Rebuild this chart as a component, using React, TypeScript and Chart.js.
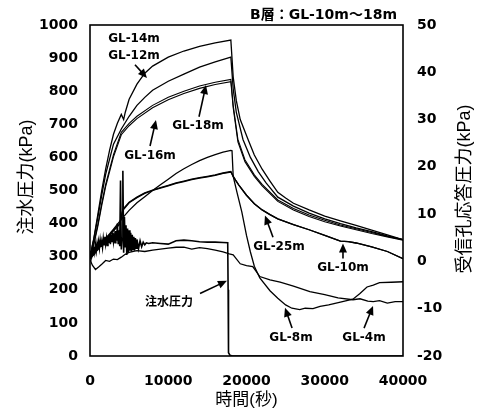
import React, { useEffect, useRef } from "react";
import { Chart, registerables } from "chart.js";
Chart.register(...registerables);

// ---- axis ranges / ticks ----
const X_MIN = 0;
const X_MAX = 40000;
const X_STEP = 10000;
const LEFT_MIN = 0;
const LEFT_MAX = 1000;
const LEFT_STEP = 100;
const RIGHT_MIN = -20;
const RIGHT_MAX = 50;
const RIGHT_STEP = 10;

// ---- 注水圧力 (left axis, kPa) ----
const injT = [0, 100, 200, 300, 400, 500, 600, 700, 800, 900, 1000, 1100, 1200, 1300, 1400, 1500, 1600, 1700, 1800, 1900, 2000, 2100, 2200, 2300, 2400, 2500, 2600, 2700, 2800, 2900, 3000, 3100, 3200, 3300, 3400, 3500, 3600, 3700, 3800, 3900, 4000, 4100, 4200, 4300, 4400, 4500, 4600, 4700, 4800, 4900, 5000, 5100, 5200, 5300, 5400, 5500, 5600, 5700, 5800, 5900, 6000, 6200, 6400, 6600, 6800, 7000, 7200, 7500, 8000, 9000, 10000, 11000, 12000, 13000, 14000, 15000, 16000, 17000, 17600, 17650, 17700, 17900, 18200, 40000];
const injV = [305, 318, 302, 326, 308, 330, 314, 336, 318, 340, 322, 345, 326, 350, 330, 346, 328, 355, 336, 360, 338, 356, 334, 364, 342, 368, 338, 360, 344, 372, 346, 366, 342, 378, 348, 400, 340, 380, 332, 530, 322, 355, 560, 312, 420, 330, 395, 305, 385, 312, 380, 318, 372, 315, 366, 322, 360, 318, 356, 326, 352, 324, 348, 330, 344, 336, 342, 340, 342, 340, 338, 348, 350, 348, 345, 344, 344, 343, 342, 200, 10, 2, 0, 0];

// ---- 受信孔応答圧力 (right axis, kPa) ----
const gl14T = [0, 500, 1000, 1500, 2000, 2500, 3000, 3500, 4000, 4300, 4500, 5000, 6000, 7000, 8000, 10000, 12000, 14000, 16000, 18000, 18300, 18700, 19200, 20200, 21000, 22000, 23000, 24000, 25000, 26000, 28000, 30000, 32000, 34000, 36000, 38000, 40000];
const gl14V = [0.8, 5, 9.9, 15, 19.5, 23.5, 26.9, 29.2, 31.1, 30, 31.5, 34.3, 37.5, 39.8, 41.3, 43.2, 44.5, 45.5, 46.2, 46.8, 39, 34, 30, 25.8, 22.5, 19.5, 17, 14.6, 13.4, 12.3, 10.9, 9.6, 8.6, 7.6, 6.6, 5.6, 4.6];

const gl12T = [0, 500, 1000, 1500, 2000, 3000, 4000, 5000, 6000, 7000, 8000, 10000, 12000, 14000, 16000, 18000, 18300, 18700, 19550, 20500, 21500, 22500, 24000, 26000, 28000, 30000, 32000, 34000, 36000, 38000, 40000];
const gl12V = [0.8, 4.8, 9.3, 14, 18.4, 24.8, 28, 30.7, 33, 34.7, 36.2, 38.1, 39.6, 41.1, 42.2, 43.2, 36.5, 31.5, 25.8, 22, 19, 16.6, 13.6, 11.7, 10.2, 9.0, 8.0, 7.1, 6.3, 5.4, 4.6];

const gl18T = [0, 500, 1000, 1500, 2000, 3000, 4000, 5000, 6000, 8000, 10000, 12000, 14000, 16000, 18000, 18300, 18900, 19800, 21000, 22000, 24000, 26000, 28000, 30000, 32000, 34000, 36000, 38000, 40000];
const gl18V = [0.8, 4, 7.8, 12.3, 16.3, 22.6, 27.3, 29.2, 30.7, 33, 34.7, 36, 37.1, 37.9, 38.5, 33, 25.8, 21.5, 18.3, 16.3, 13, 11.2, 9.8, 8.7, 7.7, 6.9, 6.1, 5.3, 4.6];
const gl16V = [0.6, 3.6, 7.4, 11.8, 15.8, 22.1, 26.8, 28.7, 30.2, 32.5, 34.2, 35.5, 36.6, 37.4, 38.0, 32.5, 25.3, 21.1, 18, 16, 12.7, 10.9, 9.5, 8.4, 7.5, 6.7, 5.9, 5.2, 4.5];

const gl25T = [0, 1000, 2000, 3000, 3800, 4200, 5000, 6000, 7000, 8000, 9000, 10000, 11000, 12000, 13000, 14000, 15000, 16000, 17000, 18000, 18300, 18600, 19000, 20000, 21000, 22000, 23000, 24000, 26000, 28000, 30000, 32000, 33000, 34000, 36000, 38000, 40000];
const gl25V = [0.5, 2.6, 4.6, 6.6, 8, 11, 12.5, 13.6, 14.5, 15.1, 15.6, 16.1, 16.6, 17.0, 17.4, 17.7, 18.0, 18.3, 18.7, 19.0, 18, 17.2, 16.2, 14, 12.2, 10.9, 9.9, 9.0, 7.8, 6.7, 5.5, 4.3, 4.2, 3.9, 3.1, 2.1, 0.6];
const gl10V = [0.5, 2.5, 4.5, 6.5, 7.9, 10.8, 12.4, 13.5, 14.4, 15.0, 15.5, 16.0, 16.5, 16.9, 17.3, 17.6, 17.9, 18.2, 18.6, 18.9, 18, 17.2, 16.2, 14, 12.2, 10.9, 9.9, 9.0, 7.8, 6.7, 5.5, 4.3, 4.2, 3.9, 3.1, 2.1, 0.6];

const gl8T = [0, 1000, 2000, 3000, 4000, 5000, 6000, 7000, 8000, 9000, 10000, 11000, 12000, 13000, 14000, 15000, 16000, 17000, 18000, 18150, 18300, 18800, 19400, 20000, 20500, 21000, 21700, 23000, 24000, 25000, 25800, 26800, 27500, 28500, 29400, 30500, 32000, 33600, 34500, 35400, 36200, 37000, 38500, 40000];
const gl8V = [0.8, 2.8, 4.8, 6.8, 8.9, 10.8, 12.4, 13.7, 15.0, 16.2, 17.4, 18.6, 19.6, 20.5, 21.3, 22.0, 22.6, 23.1, 23.5, 23.4, 18, 14.5, 10.5, 5.5, 2, -1, -3.5, -6.2, -7.8, -9.2, -9.9, -10.2, -9.9, -10, -9.5, -9.2, -8.6, -8.0, -6.8, -5.4, -5, -4.5, -4.4, -4.3];

const gl4T = [0, 300, 700, 1100, 1500, 2000, 2500, 3000, 3500, 4000, 4500, 5000, 6000, 7000, 8000, 9000, 10000, 11000, 12000, 13000, 14000, 15000, 16000, 17000, 17800, 18300, 19200, 20000, 20800, 21700, 23000, 24300, 26000, 28100, 30000, 31700, 33600, 34500, 35500, 36200, 37000, 38000, 39000, 40000];
const gl4V = [0.4, -0.8, -1.7, -1.2, -0.6, 0.2, 0.0, 0.5, 0.4, 0.9, 1.5, 1.9, 2.3, 2.1, 2.4, 2.6, 2.8, 3.0, 3.0, 2.6, 2.9, 2.7, 2.4, 2.0, 1.6, 1.4, -0.5, -0.9, -1.1, -3.2, -3.9, -4.4, -5.2, -6.4, -7.0, -7.7, -8.1, -7.9, -8.4, -8.5, -8.3, -8.8, -8.5, -8.5];

// ---- annotations (data units: time [s], right-axis kPa) ----
const annotations = [
  { text: "GL-14m", x: 5620, y: 47.0, from: [5750, 41.6], to: [7280, 38.8] },
  { text: "GL-12m", x: 5620, y: 43.4 },
  { text: "GL-18m", x: 13800, y: 28.6, from: [13930, 30.6], to: [14820, 37.3] },
  { text: "GL-16m", x: 7670, y: 22.4, from: [7670, 24.4], to: [8430, 29.9] },
  { text: "GL-25m", x: 24150, y: 3.1, from: [23390, 5.1], to: [22360, 9.7] },
  { text: "GL-10m", x: 32330, y: -1.3, from: [32330, 0.6], to: [32330, 3.8] },
  { text: "注水圧力", x: 10100, y: -8.8, from: [14060, -6.8], to: [17500, -4.1] },
  { text: "GL-8m", x: 25690, y: -16.2, from: [25820, -14.1], to: [24920, -9.8] },
  { text: "GL-4m", x: 35020, y: -16.2, from: [35020, -14.1], to: [36170, -9.4] },
];

const TITLE_X = "時間(秒)";
const TITLE_LEFT = "注水圧力(kPa)";
const TITLE_RIGHT = "受信孔応答圧力(kPa)";
const TOP_NOTE = "B層：GL-10m～18m";

const zip = (t: number[], v: number[]) => t.map((x, i) => ({ x, y: v[i] }));

const TICK_FONT = { family: "'DejaVu Sans'", size: 14, weight: "bold" as const };
const TITLE_X_FONT = "17px 'Liberation Sans', 'Noto Sans CJK JP'";
const TITLE_Y_FONT = "18px 'Liberation Sans', 'Noto Sans CJK JP'";
const LABEL_FONT = "bold 12px 'DejaVu Sans', 'Noto Sans CJK JP'";
const NOTE_FONT = "bold 14px 'DejaVu Sans', 'Noto Sans CJK JP'";

function arrow(ctx: CanvasRenderingContext2D, x0: number, y0: number, x1: number, y1: number) {
  const ang = Math.atan2(y1 - y0, x1 - x0);
  const hl = 9, hw = 4;
  ctx.beginPath();
  ctx.moveTo(x0, y0);
  ctx.lineTo(x1 - Math.cos(ang) * hl * 0.8, y1 - Math.sin(ang) * hl * 0.8);
  ctx.stroke();
  ctx.beginPath();
  ctx.moveTo(x1, y1);
  ctx.lineTo(x1 - Math.cos(ang) * hl - Math.sin(ang) * hw, y1 - Math.sin(ang) * hl + Math.cos(ang) * hw);
  ctx.lineTo(x1 - Math.cos(ang) * hl + Math.sin(ang) * hw, y1 - Math.sin(ang) * hl - Math.cos(ang) * hw);
  ctx.closePath();
  ctx.fill();
}

const overlay = {
  id: "overlay",
  afterDraw(chart: any) {
    const { ctx, chartArea: a, scales } = chart;
    const xs = scales.x;
    const ys = scales.y2;
    ctx.save();
    ctx.strokeStyle = "#000";
    ctx.fillStyle = "#000";
    ctx.lineWidth = 1.6;
    ctx.strokeRect(a.left, a.top, a.right - a.left, a.bottom - a.top);

    ctx.font = LABEL_FONT;
    ctx.textAlign = "center";
    ctx.textBaseline = "middle";
    ctx.lineWidth = 1.6;
    for (const an of annotations) {
      ctx.fillText(an.text, xs.getPixelForValue(an.x), ys.getPixelForValue(an.y));
      if (an.from && an.to) {
        arrow(
          ctx,
          xs.getPixelForValue(an.from[0]),
          ys.getPixelForValue(an.from[1]),
          xs.getPixelForValue(an.to[0]),
          ys.getPixelForValue(an.to[1])
        );
      }
    }

    // axis titles
    ctx.textAlign = "center";
    ctx.textBaseline = "middle";
    ctx.font = TITLE_X_FONT;
    ctx.fillText(TITLE_X, (a.left + a.right) / 2, a.bottom + 44);
    ctx.font = TITLE_Y_FONT;
    ctx.save();
    ctx.translate(a.left - 63, a.top + 152);
    ctx.rotate(-Math.PI / 2);
    ctx.fillText(TITLE_LEFT, 0, 0);
    ctx.restore();
    ctx.save();
    ctx.translate(a.right + 62, a.top + 164);
    ctx.rotate(-Math.PI / 2);
    ctx.fillText(TITLE_RIGHT, 0, 0);
    ctx.restore();

    ctx.font = NOTE_FONT;
    ctx.textAlign = "right";
    ctx.fillText(TOP_NOTE, a.right - 6, a.top - 10);
    ctx.restore();
  },
};

const plain = (v: any) => String(v);

export default function App() {
  const ref = useRef<HTMLCanvasElement>(null);
  useEffect(() => {
    if (!ref.current) return;
    const line = (data: { x: number; y: number }[], axis: string, w = 1.3) => ({
      data,
      yAxisID: axis,
      borderColor: "#000",
      borderWidth: w,
      pointRadius: 0,
      tension: 0,
      fill: false,
    });
    const chart = new Chart(ref.current, {
      type: "line",
      data: {
        datasets: [
          { label: "注水圧力", ...line(zip(injT, injV), "y", 1.6) },
          { label: "GL-14m", ...line(zip(gl14T, gl14V), "y2") },
          { label: "GL-12m", ...line(zip(gl12T, gl12V), "y2") },
          { label: "GL-18m", ...line(zip(gl18T, gl18V), "y2", 1.1) },
          { label: "GL-16m", ...line(zip(gl18T, gl16V), "y2", 1.1) },
          { label: "GL-25m", ...line(zip(gl25T, gl25V), "y2") },
          { label: "GL-10m", ...line(zip(gl25T, gl10V), "y2") },
          { label: "GL-8m", ...line(zip(gl8T, gl8V), "y2") },
          { label: "GL-4m", ...line(zip(gl4T, gl4V), "y2") },
        ] as any,
      },
      options: {
        animation: false,
        responsive: false,
        layout: { padding: { top: 25, left: 0, right: 0, bottom: 0 } },
        plugins: { legend: { display: false }, tooltip: { enabled: false }, title: { display: false } },
        scales: {
          x: {
            type: "linear",
            min: X_MIN,
            max: X_MAX,
            grid: { display: false, drawTicks: false },
            border: { display: false },
            ticks: { stepSize: X_STEP, color: "#000", font: TICK_FONT, padding: 17, maxRotation: 0, callback: plain },
            afterFit: (s: any) => { s.height = 61; },
          },
          y: {
            position: "left",
            min: LEFT_MIN,
            max: LEFT_MAX,
            grid: { display: false, drawTicks: false },
            border: { display: false },
            ticks: { stepSize: LEFT_STEP, color: "#000", font: TICK_FONT, padding: 12, callback: plain },
            afterFit: (s: any) => { s.width = 90; },
          },
          y2: {
            position: "right",
            min: RIGHT_MIN,
            max: RIGHT_MAX,
            grid: { display: false, drawTicks: false },
            border: { display: false },
            ticks: { stepSize: RIGHT_STEP, color: "#000", font: TICK_FONT, padding: 14, callback: plain },
            afterFit: (s: any) => { s.width = 75; },
          },
        },
      } as any,
      plugins: [overlay],
    });
    return () => chart.destroy();
  }, []);
  return (
    <div style={{ position: "fixed", left: 0, top: 0, width: 478, height: 417, background: "#fff" }}>
      <canvas ref={ref} width={478} height={417} style={{ width: 478, height: 417, display: "block" }} />
    </div>
  );
}
